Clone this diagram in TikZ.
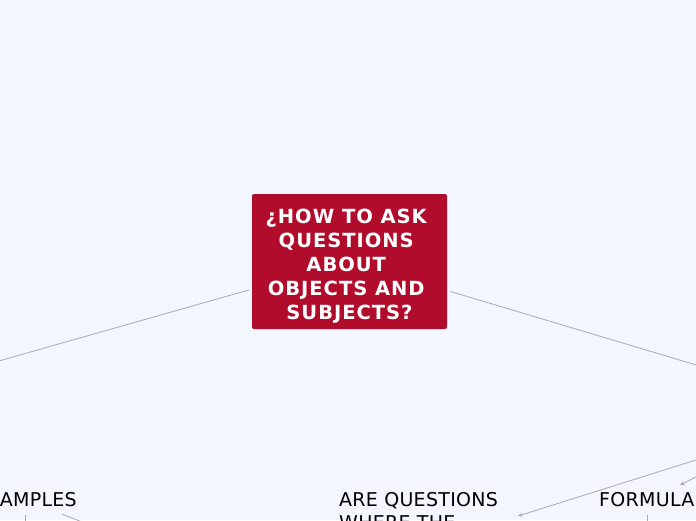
\documentclass[tikz,border=0pt]{standalone}
\usepackage{fontspec}
\setmainfont{DejaVu Sans}
\newfontfamily\titlefont[LetterSpace=5]{DejaVu Sans}
\newfontfamily\labelfont[LetterSpace=1.5]{DejaVu Sans}
\usetikzlibrary{arrows.meta}
\definecolor{bg}{HTML}{F3F6FE}
\definecolor{rootred}{HTML}{B10C2B}
\definecolor{linegray}{HTML}{A8A8B0}
\begin{document}
\begin{tikzpicture}[x=1pt,y=-1pt,
  conn/.style={draw=linegray, line width=0.8pt},
  tipped/.style={-{Stealth[length=4.5pt,width=4pt]}},
  rootbox/.style={fill=rootred, rounded corners=2pt, minimum width=195pt,
    minimum height=135pt, inner sep=0pt, text=white, align=center,
    font=\titlefont\bfseries\fontsize{19.5}{24}\selectfont},
  leaf/.style={inner sep=0pt, anchor=base west, align=left, text=black,
    font=\labelfont\fontsize{19}{23}\selectfont}]
\useasboundingbox (0,0) rectangle (696,520);
\fill[bg] (0,0) rectangle (696,520);
\clip (0,0) rectangle (696,520);
\coordinate (farL) at (-20,366.3);
\coordinate (farR) at (716,370.9);
\node[rootbox] (root) at (349.5,261.5)
  {\rule{0pt}{23.5pt}¿HOW TO ASK\kern6.5pt\\QUESTIONS\kern6.5pt\\ABOUT\kern6.5pt\\OBJECTS AND\kern6.5pt\\SUBJECTS?};
\draw[conn, shorten <=3pt] (root) -- (farL);
\draw[conn, shorten <=3pt] (root) -- (farR);
\node[leaf] (ex) at (-0.3,506) {AMPLES};
\node[leaf] (aq) at (339,529) {ARE QUESTIONS\\WHERE THE};
\node[leaf] (fo) at (599,506) {FORMULA};
\coordinate (exs0) at (25,515);
\coordinate (exd) at (25,530);
\coordinate (exs) at (62,514);
\coordinate (exe) at (102,530);
\coordinate (fos) at (647.5,515);
\coordinate (fod) at (647.5,530);
\coordinate (r1) at (706,456.8);
\coordinate (aqtip) at (518,516);
\coordinate (r2) at (706,472);
\coordinate (fotip) at (680,485);
\draw[conn] (exs0) -- (exd);
\draw[conn] (exs) -- (exe);
\draw[conn] (fos) -- (fod);
\draw[conn, tipped] (r1) -- (aqtip);
\draw[conn, tipped] (r2) -- (fotip);
\end{tikzpicture}
\end{document}
